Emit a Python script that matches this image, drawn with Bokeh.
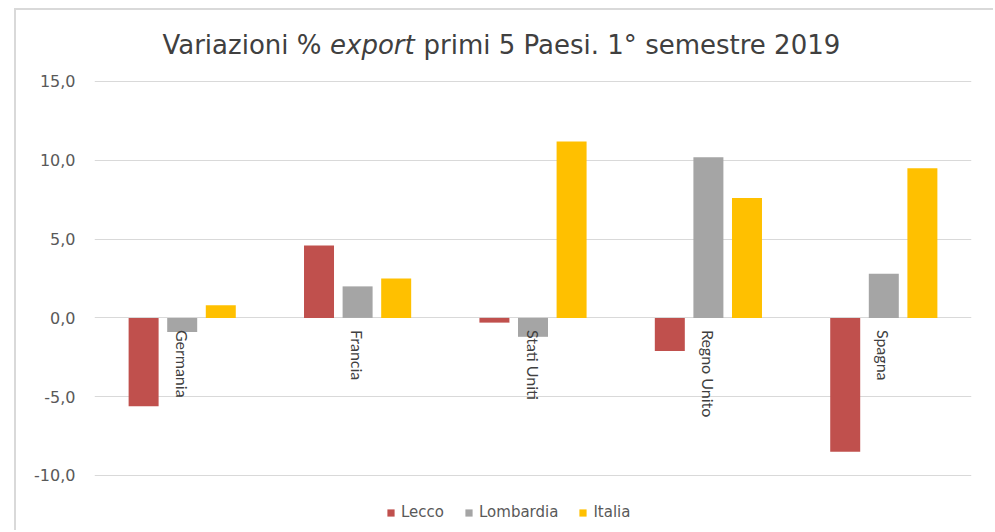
import math
from bokeh.plotting import figure
from bokeh.models import (ColumnDataSource, FactorRange, FixedTicker, CustomJSTickFormatter,
                          Legend, LegendItem, Label, Range1d)
from bokeh.transform import dodge
from bokeh.core.properties import value
from bokeh.embed import file_html
from bokeh.resources import INLINE

# ---- data ----
paesi = ["Germania", "Francia", "Stati Uniti", "Regno Unito", "Spagna"]
lecco = [-5.6, 4.6, -0.3, -2.1, -8.5]
lombardia = [-0.9, 2.0, -1.2, 10.2, 2.8]
italia = [0.8, 2.5, 11.2, 7.6, 9.5]
serie = ["Lecco", "Lombardia", "Italia"]
colori = ["#C0504D", "#A5A5A5", "#FFC000"]
y_ticks = [-10, -5, 0, 5, 10, 15]
titolo = ["Variazioni %", "export", "primi 5 Paesi. 1° semestre 2019"]

source = ColumnDataSource(data=dict(paese=paesi, Lecco=lecco, Lombardia=lombardia,
                                    Italia=italia, base=[0] * len(paesi)))

# frame spans the full height so title and legend live inside it
p = figure(x_range=FactorRange(*paesi), y_range=Range1d(-13.617, 19.505),
           width=979, height=522, output_backend="svg", toolbar_location=None,
           min_border_left=78, min_border_right=24, min_border_top=0, min_border_bottom=0)
p.styles = {"border-left": "2px solid #D9D9D9", "border-top": "2px solid #D9D9D9",
            "margin-left": "14px", "margin-top": "8px"}
p.outline_line_color = None
p.background_fill_color = "white"
p.border_fill_color = "white"

renderers = []
offsets = [-0.22, 0.0, 0.22]
for s, c, off in zip(serie, colori, offsets):
    r = p.vbar(x=dodge("paese", off, range=p.x_range), top=s, bottom=0, width=0.171,
               source=source, fill_color=c, line_color=None)
    renderers.append(r)

# axes / grid
p.xaxis.visible = False
p.xgrid.visible = False
p.yaxis.ticker = FixedTicker(ticks=y_ticks)
p.yaxis.formatter = CustomJSTickFormatter(code="return tick.toFixed(1).replace('.', ',');")
p.yaxis.axis_line_color = None
p.yaxis.major_tick_line_color = None
p.yaxis.minor_tick_line_color = None
p.yaxis.major_tick_out = 0
p.yaxis.major_tick_in = 0
p.yaxis.major_label_standoff = 19
p.yaxis.major_label_text_font = "DejaVu Sans"
p.yaxis.major_label_text_font_size = "16px"
p.yaxis.major_label_text_color = "#595959"
p.ygrid.grid_line_color = "#D9D9D9"
p.ygrid.grid_line_width = 1

# category labels next to the zero line
p.text(x="paese", y="base", text="paese", source=source, angle=-math.pi / 2,
       text_align="left", text_baseline="middle", y_offset=12,
       text_font=value("Lato"), text_font_size="16px", text_color="#404040")

# legend
legend = Legend(items=[LegendItem(label=s, renderers=[r]) for s, r in zip(serie, renderers)],
                orientation="horizontal", location=(292, 10),
                glyph_width=9, glyph_height=9, label_standoff=6, spacing=20,
                label_height=20,
                label_text_font="DejaVu Sans", label_text_font_size="15px",
                label_text_color="#595959", border_line_color=None,
                background_fill_alpha=0, padding=0, margin=0)
p.add_layout(legend, "center")

# title (mixed styles)
for txt, xpos, align, style in [(titolo[0], 1.294, "right", "normal"),
                                (titolo[1], 1.343, "left", "italic"),
                                (titolo[2], 1.876, "left", "normal")]:
    p.add_layout(Label(x=xpos, y=17.3, text=txt, text_align=align, text_baseline="alphabetic",
                       text_font="DejaVu Sans", text_font_size="26px", text_font_style=style,
                       text_color="#404040"))

open("out.html", "w").write(file_html(p, INLINE))
